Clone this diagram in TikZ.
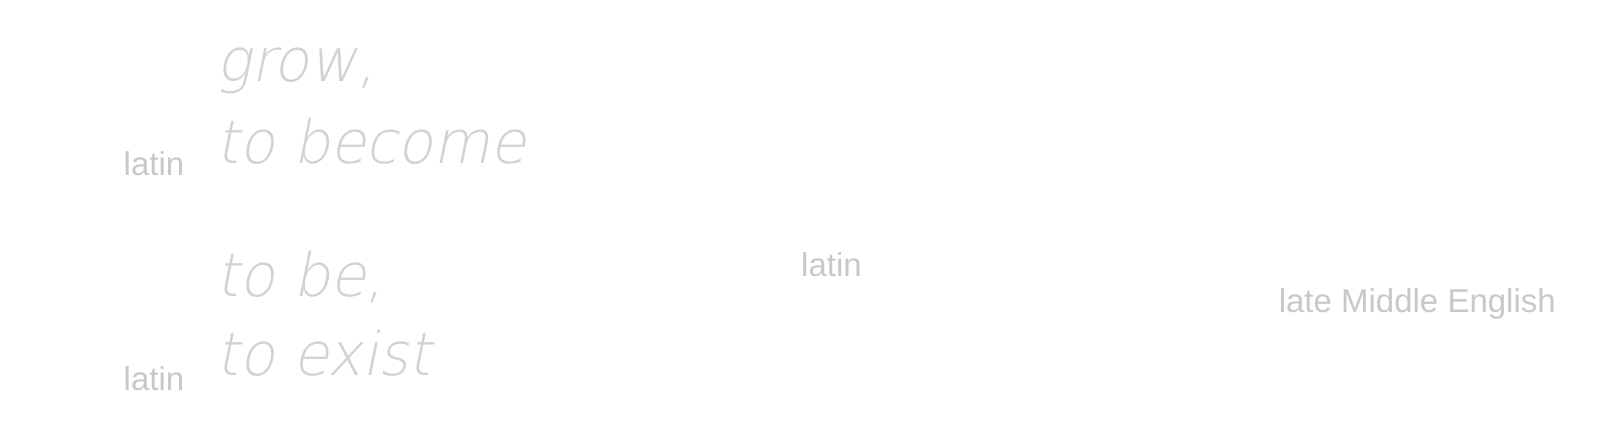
\documentclass[tikz,border=0pt]{standalone}
\usepackage{fontspec}
\setmainfont{Liberation Sans}
\newfontfamily\thinit{DejaVu Sans ExtraLight}[FakeSlant=0.2,FakeStretch=0.97]
\definecolor{lbl}{HTML}{C8C8C8}
\definecolor{big}{HTML}{D2D2D2}
\begin{document}
\begin{tikzpicture}[x=1pt,y=-1pt,
  lab/.style={anchor=base west,inner sep=0pt,text=lbl,font=\fontsize{33}{40}\selectfont},
  word/.style={anchor=base west,inner sep=0pt,text=big,font=\thinit\fontsize{60}{72}\selectfont}]
\useasboundingbox (0,0) rectangle (1600,425);
\node[word] (w1) at (216,81.6) {grow,};
\node[word] (w2) at (216,163) {to become};
\node[lab] (l1) at (123.5,175.5) {latin};
\node[word] (w3) at (216,296) {to be,};
\node[word] (w4) at (216,375.5) {to exist};
\node[lab] (l2) at (123.5,390) {latin};
\node[lab] (l3) at (801,276.5) {latin};
\node[lab] (l4) at (1278.6,312) {late Middle English};
\end{tikzpicture}
\end{document}
